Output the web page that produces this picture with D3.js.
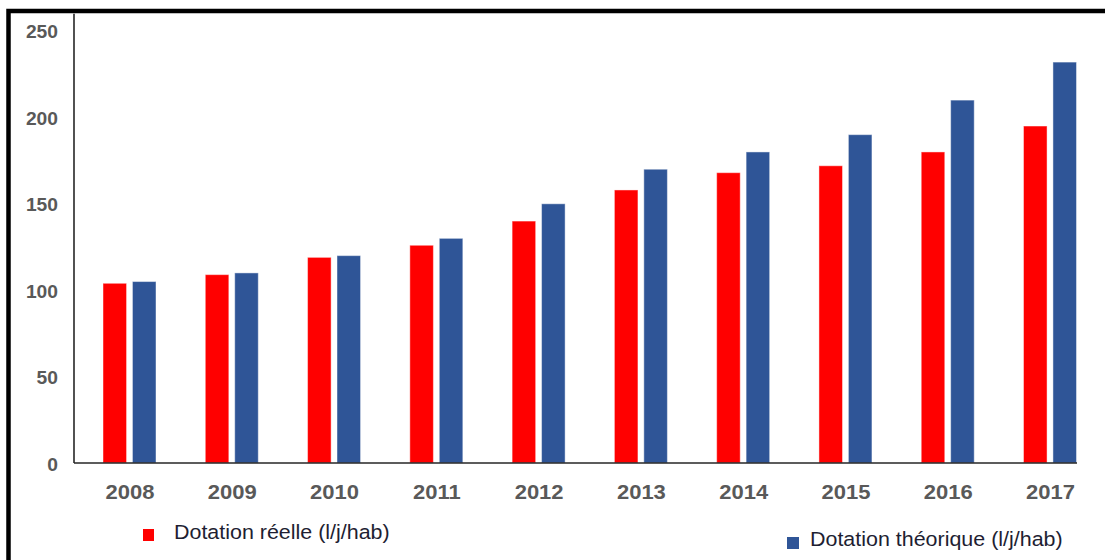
<!DOCTYPE html>
<html>
<head>
<meta charset="utf-8">
<script src="https://cdn.jsdelivr.net/npm/d3@7"></script>
<style>
  html, body { margin: 0; padding: 0; background: #fff; }
  svg { display: block; }
  text { font-family: "Liberation Sans", Arial, sans-serif; }
</style>
</head>
<body>
<svg id="chart" width="1105" height="560"></svg>
<script>
// Daily water allocation per inhabitant, 2008–2017
const years = ["2008", "2009", "2010", "2011", "2012", "2013", "2014", "2015", "2016", "2017"];
const reelle = [104, 109, 119, 126, 140, 158, 168, 172, 180, 195];
const theorique = [105, 110, 120, 130, 150, 170, 180, 190, 210, 232];
const yTicks = [0, 50, 100, 150, 200, 250];
const seriesNames = ["Dotation réelle (l/j/hab)", "Dotation théorique (l/j/hab)"];
const seriesColors = ["#ff0000", "#2f5597"];

const svg = d3.select("#chart");
const stretch = "scale(1.1,1)";

// Outer frame (runs past the right and bottom edges)
svg.append("rect")
  .attr("x", 8.5).attr("y", 11)
  .attr("width", 1200).attr("height", 700)
  .attr("fill", "none").attr("stroke", "#000").attr("stroke-width", 4.5);

const y = d3.scaleLinear().domain([0, 260]).range([463, 13.7]);
const x = d3.scalePoint().domain(years).range([129.5, 1050]);
const xSub = d3.scaleBand().domain([0, 1]).range([-26.5, 26.5]).paddingInner(0.2);

const rows = years.map((yr, i) => ({ year: yr, values: [reelle[i], theorique[i]] }));

// Bars
const groups = svg.append("g").selectAll("g")
  .data(rows).join("g")
  .attr("transform", d => `translate(${x(d.year)},0)`);

groups.selectAll("rect")
  .data(d => d.values.map((v, k) => ({ k, v })))
  .join("rect")
  .attr("x", d => xSub(d.k))
  .attr("width", xSub.bandwidth())
  .attr("y", d => y(d.v))
  .attr("height", d => y(0) - y(d.v))
  .attr("fill", d => seriesColors[d.k])
  .attr("stroke", "rgba(255,255,255,0.45)")
  .attr("stroke-width", 1);

// Axis lines
svg.append("line")
  .attr("x1", 74).attr("x2", 74)
  .attr("y1", y(260)).attr("y2", y(0))
  .attr("stroke", "#262626").attr("stroke-width", 1.6);
svg.append("line")
  .attr("x1", 74).attr("x2", 1077)
  .attr("y1", y(0)).attr("y2", y(0))
  .attr("stroke", "#262626").attr("stroke-width", 1.6);

// Y axis labels
const yAxis = svg.append("g")
  .attr("transform", "translate(58,0)")
  .call(d3.axisLeft(y).tickValues(yTicks).tickSize(0).tickPadding(0));
yAxis.select(".domain").remove();
yAxis.selectAll("text")
  .attr("x", 0).attr("dy", "0.4em")
  .attr("text-anchor", "end")
  .attr("transform", stretch)
  .attr("fill", "#595959")
  .attr("font-size", 17.5)
  .attr("font-weight", "bold")
  .attr("font-family", "'Liberation Sans', Arial, sans-serif");

// X axis labels
const xAxis = svg.append("g")
  .attr("transform", `translate(0,${y(0)})`)
  .call(d3.axisBottom(x).tickSize(0));
xAxis.select(".domain").remove();
xAxis.selectAll("text")
  .attr("y", 36).attr("dy", 0)
  .attr("transform", stretch)
  .attr("fill", "#595959")
  .attr("font-size", 20)
  .attr("font-weight", "bold")
  .attr("font-family", "'Liberation Sans', Arial, sans-serif");

// Legend
const legendItems = [
  { sx: 143, sy: 529, sw: 11, sh: 12, tx: 174, ty: 538.5 },
  { sx: 787, sy: 537, sw: 12, sh: 12, tx: 810, ty: 546 }
];
legendItems.forEach((p, i) => {
  svg.append("rect")
    .attr("x", p.sx).attr("y", p.sy)
    .attr("width", p.sw).attr("height", p.sh)
    .attr("fill", seriesColors[i]);
  svg.append("text")
    .attr("transform", `translate(${p.tx},${p.ty}) ${stretch}`)
    .attr("font-size", 19.5)
    .attr("fill", "#1e1e32")
    .text(seriesNames[i]);
});
</script>
</body>
</html>
